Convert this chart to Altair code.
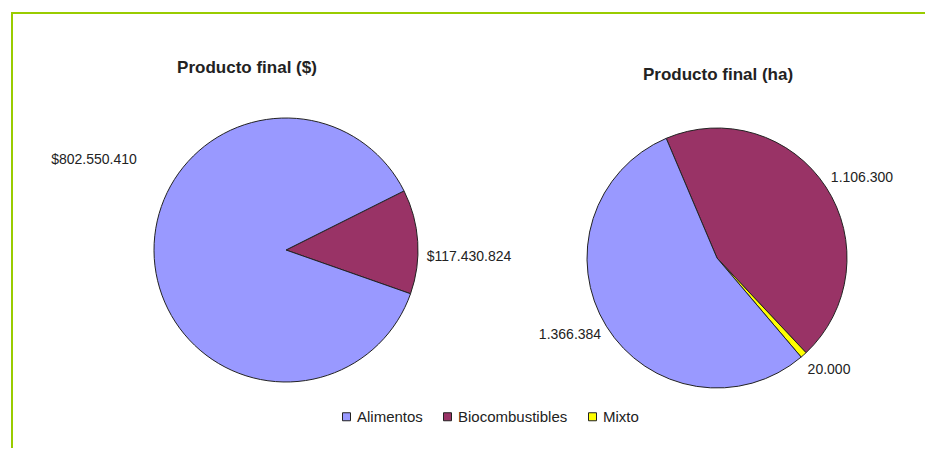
import altair as alt
import pandas as pd
import math

# ---- data ----
categories = ["Alimentos", "Biocombustibles", "Mixto"]
colors = ["#9999FF", "#993366", "#FFFF00"]

pie1_cats = ["Biocombustibles", "Alimentos"]
pie1_vals = [117430824, 802550410]
pie1_labels = ["$117.430.824", "$802.550.410"]

pie2_cats = ["Biocombustibles", "Mixto", "Alimentos"]
pie2_vals = [1106300, 20000, 1366384]
pie2_labels = ["1.106.300", "20.000", "1.366.384"]

titles = ["Producto final ($)", "Producto final (ha)"]

# ---- layout (pixels, styles) ----
W, H = 917, 440
FONT = "Liberation Sans"
pie1_center, pie1_r, pie1_start = (278, 242), 132, math.radians(63.4)
pie2_center, pie2_r, pie2_start = (709, 250), 130, math.radians(337.0)
pie1_label_pos = [(461, 249), (86, 152)]
pie2_label_pos = [(854, 170), (821, 362), (562, 327)]
title_pos = [(239, 60), (710, 67)]

color_scale = alt.Scale(domain=categories, range=colors)


def pie(cats, vals, center, r, start, legend):
    df = pd.DataFrame({"cat": cats, "val": vals, "ord": list(range(len(cats)))})
    return alt.Chart(df).mark_arc(radius=r, stroke="#222222", strokeWidth=1).encode(
        theta=alt.Theta("val:Q", stack=True,
                        scale=alt.Scale(range=[start, start + 2 * math.pi])),
        color=alt.Color("cat:N", scale=color_scale, legend=legend),
        order=alt.Order("ord:Q"),
        x=alt.value(center[0]),
        y=alt.value(center[1]),
    )


legend = alt.Legend(
    title=None, orient="none", direction="horizontal", legendX=331, legendY=401,
    symbolType="square", symbolSize=64, symbolStrokeColor="#222222",
    symbolStrokeWidth=1, labelFont=FONT, labelFontSize=15, labelColor="#222222",
    labelOffset=3, columnPadding=17, padding=0, values=categories,
)

p1 = pie(pie1_cats, pie1_vals, pie1_center, pie1_r, pie1_start, legend)
p2 = pie(pie2_cats, pie2_vals, pie2_center, pie2_r, pie2_start, None)


def labels(texts, pos, size=14, bold=False):
    df = pd.DataFrame({"t": texts, "x": [p[0] for p in pos], "y": [p[1] for p in pos]})
    return alt.Chart(df).mark_text(
        font=FONT, fontSize=size, fontWeight="bold" if bold else "normal",
        color="#222222", align="center", baseline="middle",
    ).encode(
        text="t:N",
        x=alt.X("x:Q", scale=alt.Scale(domain=[0, W], range=[0, W]), axis=None),
        y=alt.Y("y:Q", scale=alt.Scale(domain=[0, H], range=[0, H]), axis=None),
    )


l1 = labels(pie1_labels, pie1_label_pos)
l2 = labels(pie2_labels, pie2_label_pos)
t = labels(titles, title_pos, size=17, bold=True)

frame_df = pd.DataFrame({"a": [0]})
top_line = alt.Chart(frame_df).mark_rule(color="#99CC00", strokeWidth=2).encode(
    x=alt.value(3), x2=alt.value(W + 10), y=alt.value(5))
left_line = alt.Chart(frame_df).mark_rule(color="#99CC00", strokeWidth=2).encode(
    x=alt.value(4), y=alt.value(4), y2=alt.value(H + 10))

chart = alt.layer(top_line, left_line, p1, p2, l1, l2, t).resolve_scale(
    theta="independent"
).properties(
    width=W, height=H, autosize=alt.AutoSizeParams(type="none"), padding=0,
    background="white",
).configure_view(stroke=None)

chart.save("out.html", embed_options={"renderer": "svg", "actions": False})
